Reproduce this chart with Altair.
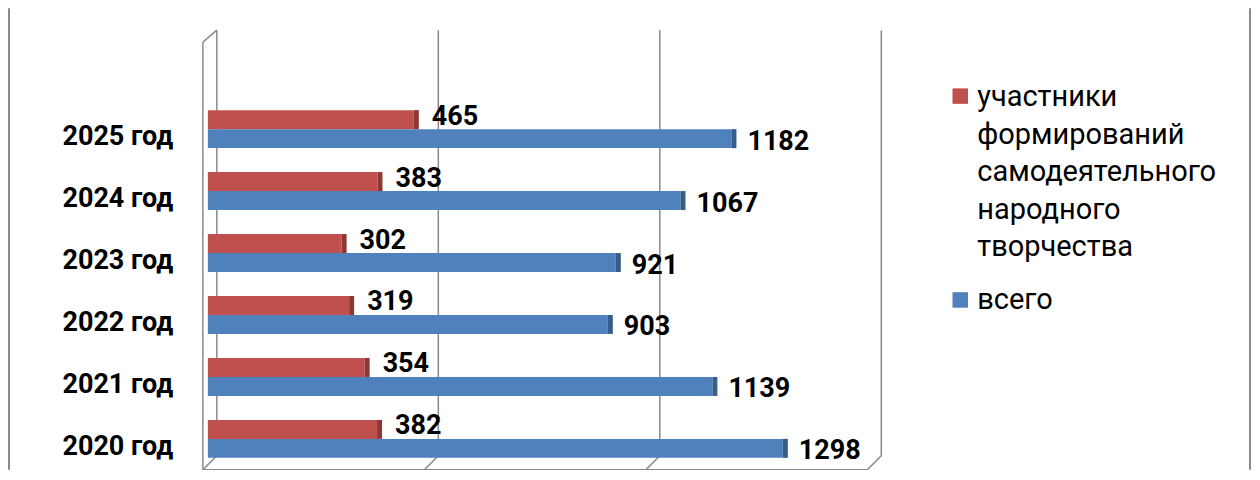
import altair as alt
import pandas as pd

# ---- data ----
years = ["2020 год", "2021 год", "2022 год", "2023 год", "2024 год", "2025 год"]
participants = [382, 354, 319, 302, 383, 465]
total = [1298, 1139, 903, 921, 1067, 1182]
series_names = [
    "участники формирований самодеятельного народного творчества",
    "всего",
]
legend_lines_red = ["участники", "формирований", "самодеятельного", "народного", "творчества"]
legend_lines_blue = ["всего"]
grid_ticks = [0, 500, 1000, 1500]

colors = ["#C0504D", "#4F81BD"]
dark = ["#8C3836", "#385D8A"]

rows = []
for y, p, t in zip(years, participants, total):
    rows.append({"year": y, "series": series_names[0], "value": p, "c": colors[0], "d": dark[0]})
    rows.append({"year": y, "series": series_names[1], "value": t, "c": colors[1], "d": dark[1]})
df = pd.DataFrame(rows)
grid_df = pd.DataFrame({"tick": grid_ticks})
one = pd.DataFrame({"a": [0]})

W, H = 665, 440
y_order = list(reversed(years))

xs = alt.Scale(domain=[0, 1500], nice=False, zero=True)
x_enc = alt.X("value:Q", scale=xs, axis=None)
y_enc = alt.Y(
    "year:N",
    sort=y_order,
    scale=alt.Scale(paddingInner=0.387, paddingOuter=0.742, align=0.87),
    axis=alt.Axis(
        title=None, domain=False, ticks=False, grid=False,
        labelFont="Roboto", labelFontWeight="bold", labelFontSize=27,
        labelColor="black", labelPadding=35, labelOffset=8,
    ),
)
yoff = alt.YOffset("series:N", sort=series_names,
                   scale=alt.Scale(domain=series_names, paddingInner=0, paddingOuter=0))

gx = alt.X("tick:Q", scale=xs, axis=None)
gx2 = alt.X2("tick:Q")
gcol = "#8A8A8A"

back_grid = alt.Chart(grid_df).mark_rule(color=gcol, strokeWidth=1.5, xOffset=9).encode(
    x=gx, y=alt.value(0), y2=alt.value(426))
diag = alt.Chart(grid_df).mark_rule(color=gcol, strokeWidth=1.5, xOffset=9, x2Offset=-5).encode(
    x=gx, x2=gx2, y=alt.value(426), y2=alt.value(440))
floor_df = pd.DataFrame({"tick": [grid_ticks[0]], "tick_end": [grid_ticks[-1]]})
floor = alt.Chart(floor_df).mark_rule(color=gcol, strokeWidth=1.5, xOffset=-5, x2Offset=-5).encode(
    x=gx, x2="tick_end:Q", y=alt.value(440))
zero_df = pd.DataFrame({"tick": [0]})
left_front = alt.Chart(zero_df).mark_rule(color=gcol, strokeWidth=1.5, xOffset=-5).encode(
    x=gx, y=alt.value(12), y2=alt.value(440))
left_top = alt.Chart(zero_df).mark_rule(color=gcol, strokeWidth=1.5, xOffset=9, x2Offset=-5).encode(
    x=gx, x2=gx2, y=alt.value(0), y2=alt.value(12))

bars = alt.Chart(df).mark_bar().encode(
    x=x_enc, x2=alt.datum(0), y=y_enc, yOffset=yoff, color=alt.Color("c:N", scale=None))
caps = alt.Chart(df).mark_bar(x2Offset=5).encode(
    x=x_enc, x2="value:Q", y=y_enc, yOffset=yoff, color=alt.Color("d:N", scale=None))

lab_style = dict(align="left", baseline="middle", font="Roboto", fontWeight="bold",
                 fontSize=27, color="black")
lab_red = alt.Chart(df).transform_filter(alt.datum.series == series_names[0]).mark_text(
    dx=18, dy=-3, **lab_style).encode(x=x_enc, y=y_enc, yOffset=yoff, text="value:Q")
lab_blue = alt.Chart(df).transform_filter(alt.datum.series == series_names[1]).mark_text(
    dx=16, dy=3, **lab_style).encode(x=x_enc, y=y_enc, yOffset=yoff, text="value:Q")

# ---- manual legend (right side) ----
legend_layers = []
for i, t in enumerate(legend_lines_red):
    legend_layers.append(
        alt.Chart(one).mark_text(align="left", baseline="middle", font="Roboto",
                                 fontSize=29, color="black", text=t).encode(
            x=alt.value(770), y=alt.value(67 + i * 37.5)))
for t in legend_lines_blue:
    legend_layers.append(
        alt.Chart(one).mark_text(align="left", baseline="middle", font="Roboto",
                                 fontSize=29, color="black", text=t).encode(
            x=alt.value(770), y=alt.value(270)))
for c, py in zip(colors, [66, 270]):
    legend_layers.append(
        alt.Chart(one).mark_square(size=240, opacity=1, filled=True, color=c).encode(
            x=alt.value(753), y=alt.value(py)))

# ---- outer frame (left/right border lines) ----
border_l = alt.Chart(one).mark_rule(color="#8A8A8A", strokeWidth=2).encode(
    x=alt.value(-199), y=alt.value(-22), y2=alt.value(H))
border_r = alt.Chart(one).mark_rule(color="#8A8A8A", strokeWidth=2).encode(
    x=alt.value(1043), y=alt.value(-22), y2=alt.value(H))

chart = alt.layer(
    border_l, border_r, back_grid, diag, floor, left_front, left_top,
    bars, caps, lab_red, lab_blue, *legend_layers,
).properties(
    width=W, height=H,
    padding={"left": 200, "top": 22, "right": 380, "bottom": 0},
    autosize=alt.AutoSizeParams(type="none"),
    background="white",
).configure_view(stroke=None)

chart.save("out.html", embed_options={"renderer": "svg", "actions": False})
